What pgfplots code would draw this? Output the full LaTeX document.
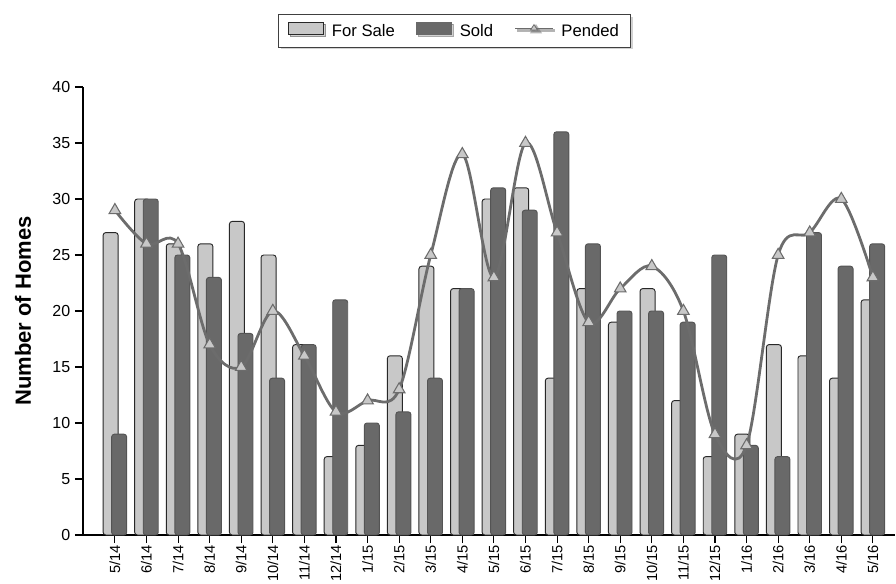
\documentclass[border=0pt]{standalone}
\usepackage{fontspec}
\setmainfont{Liberation Sans}
\usepackage{pgfplots}
\pgfplotsset{compat=1.18}
\usetikzlibrary{shadows}

\definecolor{forsale}{RGB}{200,200,200}
\definecolor{sold}{RGB}{105,105,105}
\definecolor{pended}{RGB}{108,108,108}
\definecolor{edge}{RGB}{40,40,40}

\begin{document}
\begin{tikzpicture}
\useasboundingbox (0,0) rectangle (672pt,437.25pt);
\begin{axis}[
  at={(62.25pt,36pt)}, anchor=south west,
  scale only axis, width=609pt, height=336pt,
  xmin=-1.01, xmax=24.7, ymin=0, ymax=40,
  axis x line=bottom, axis y line=left,
  axis line style={-, black, line width=0.9pt},
  tick align=outside, major tick length=6pt,
  tick style={black, line width=0.8pt},
  xtick={0,...,24},
  xticklabels={5/14,6/14,7/14,8/14,9/14,10/14,11/14,12/14,1/15,2/15,3/15,4/15,5/15,6/15,7/15,8/15,9/15,10/15,11/15,12/15,1/16,2/16,3/16,4/16,5/16},
  x tick label style={rotate=90, anchor=east, inner sep=1.5pt, font=\fontsize{11}{11}\selectfont},
  ytick={0,5,...,40},
  y tick label style={font=\fontsize{12}{12}\selectfont},
  /pgf/number format/assume math mode=true,
  ylabel={Number of Homes},
  every axis y label/.style={at={(axis description cs:-0.074,0.5)}, rotate=90, anchor=center,
    font=\fontsize{16.5}{18}\selectfont\bfseries},
  legend columns=3,
  legend style={at={(0.458,1.125)}, anchor=center, draw=black!75, line width=0.8pt,
    font=\fontsize{12.5}{13}\selectfont, inner xsep=7pt, inner ysep=5pt,
    drop shadow={shadow xshift=1.5pt, shadow yshift=-1.5pt, fill=black!35},
    /tikz/every odd column/.append style={column sep=4pt},
    /tikz/every even column/.append style={column sep=14pt}},
]
\addplot[ybar, bar width=11.25pt, bar shift=-3.2pt, fill=forsale, draw=edge, line width=0.7pt,
  rounded corners=2pt,
  legend image code/.code={\draw[sharp corners, fill=forsale, draw=edge, line width=0.8pt] (0pt,-2.5pt) rectangle (26pt,6.5pt);}]
coordinates {
(0,27) (1,30) (2,26) (3,26) (4,28) (5,25) (6,17) (7,7) (8,8) (9,16) (10,24) (11,22) (12,30)
(13,31) (14,14) (15,22) (16,19) (17,22) (18,12) (19,7) (20,9) (21,17) (22,16) (23,14) (24,21)
};
\addlegendentry{For Sale}
\addplot[ybar, bar width=11.25pt, bar shift=3.2pt, fill=sold, draw=sold!80!black, line width=0.7pt,
  rounded corners=2pt,
  legend image code/.code={\draw[sharp corners, fill=sold, draw=sold] (0pt,-2.5pt) rectangle (26pt,6.5pt);}]
coordinates {
(0,9) (1,30) (2,25) (3,23) (4,18) (5,14) (6,17) (7,21) (8,10) (9,11) (10,14) (11,22) (12,31)
(13,29) (14,36) (15,26) (16,20) (17,20) (18,19) (19,25) (20,8) (21,7) (22,27) (23,24) (24,26)
};
\addlegendentry{Sold}
\addplot[pended, line width=2.1pt, smooth, tension=0.55, mark=triangle*, mark size=5pt,
  mark options={fill=forsale, draw=pended, line width=0.8pt},
  legend image code/.code={\draw[pended, line width=1.2pt] (0pt,2pt) -- (28pt,2pt);
    \draw[fill=forsale, draw=pended, line width=0.6pt] (14pt,4.8pt) -- ++(-2.6pt,-4pt) -- ++(5.2pt,0) -- cycle;}]
coordinates {
(0,29) (1,26) (2,26) (3,17) (4,15) (5,20) (6,16) (7,11) (8,12) (9,13) (10,25) (11,34) (12,23)
(13,35) (14,27) (15,19) (16,22) (17,24) (18,20) (19,9) (20,8) (21,25) (22,27) (23,30) (24,23)
};
\addlegendentry{Pended}
\end{axis}
\end{tikzpicture}
\end{document}
